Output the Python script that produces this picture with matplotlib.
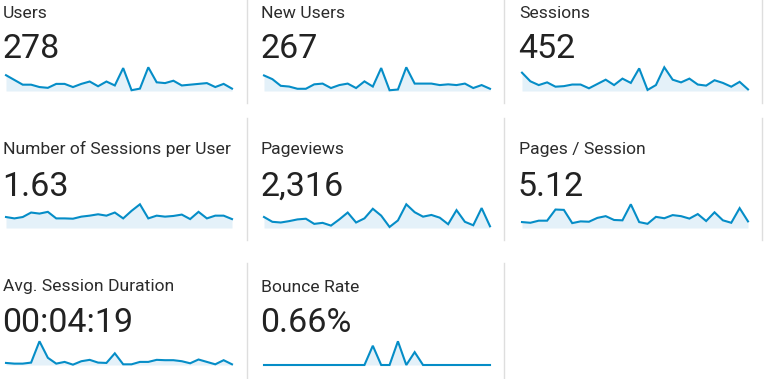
import matplotlib
matplotlib.use("Agg")
import matplotlib.pyplot as plt

W, H = 766, 379
DPI = 100

LINE_BLUE = "#058dc7"
FILL_BLUE = "#e4f1f9"
LABEL_COLOR = "#2b2b2b"
VALUE_COLOR = "#222222"
BORDER = "#dedede"

# metric names and headline values
labels = ["Users", "New Users", "Sessions",
          "Number of Sessions per User", "Pageviews", "Pages / Session",
          "Avg. Session Duration", "Bounce Rate"]
totals = ["278", "267", "452", "1.63", "2,316", "5.12", "00:04:19", "0.66%"]

# daily values (28 days)
users = [20, 14, 8, 8, 5, 4, 9, 9, 5, 9, 12, 6, 12, 7, 29, 1, 3, 30, 11, 10,
         13, 7, 8, 9, 10, 5, 9, 3]
new_users = [21, 16, 7, 6, 3, 3, 9, 10, 4, 8, 10, 4, 13, 6, 31, 1, 2, 32, 10,
             10, 10, 8, 9, 8, 10, 4, 8, 3]
sessions = [34, 18, 11, 16, 8, 9, 12, 12, 5, 13, 21, 11, 23, 15, 42, 2, 11, 44,
            21, 16, 23, 12, 10, 20, 15, 8, 17, 3]
sessions_per_user = [1.44, 1.26, 1.44, 2.03, 1.89, 2.12, 1.26, 1.26, 1.22,
                     1.49, 1.62, 1.80, 1.62, 2.03, 1.26, 2.25, 3.11, 1.26,
                     1.62, 1.49, 1.58, 1.76, 1.17, 2.12, 1.26, 1.62, 1.62, 1.17]
pageviews = [96, 54, 48, 60, 75, 81, 36, 45, 21, 75, 135, 48, 84, 168, 108, 9,
             66, 207, 138, 99, 114, 90, 33, 156, 54, 24, 174, 15]
pages_per_session = [3.06, 2.70, 3.78, 3.78, 9.54, 9.36, 2.52, 3.42, 3.24,
                     5.22, 6.12, 4.14, 3.96, 12.24, 3.06, 2.16, 5.76, 5.04,
                     6.66, 6.12, 4.86, 7.20, 3.60, 8.10, 3.96, 2.70, 10.26, 3.42]
avg_duration = [132, 88, 88, 154, 1518, 462, 88, 198, 22, 242, 330, 154, 132,
                748, 44, 44, 198, 198, 330, 308, 308, 242, 110, 352, 198, 44,
                308, 44]
bounce_rate = [0, 0, 0, 0, 0, 0, 0, 0, 0, 0, 0, 0, 0, 6.25, 0, 0, 7.69, 0,
               4.17, 0, 0, 0, 0, 0, 0, 0, 0, 0]

series = [users, new_users, sessions, sessions_per_user, pageviews,
          pages_per_session, avg_duration, bounce_rate]

# layout in pixels (top-left origin)
col_x = [0, 258, 516]
col_right = [247, 504, 762]
row_dy = [0, 137, 274]
row_borders = [(0, 103), (118, 240), (263, 379)]

fig = plt.figure(figsize=(W / DPI, H / DPI), dpi=DPI)
fig.patch.set_facecolor("white")


def fx(px):
    return px / W


def fy(py):
    return 1 - py / H


# card borders on the right side
for r, (y0, y1) in enumerate(row_borders):
    for c in range(3):
        if r * 3 + c >= len(labels):
            continue
        fig.add_artist(plt.Line2D([fx(col_right[c]), fx(col_right[c])],
                                  [fy(y0), fy(y1)], color=BORDER, lw=1.0))

for i, (lab, tot, vals) in enumerate(zip(labels, totals, series)):
    r, c = divmod(i, 3)
    x0 = col_x[c]
    dy = row_dy[r]

    fig.text(fx(x0 + 3), fy(dy + 17.5), lab, fontsize=12.6, color=LABEL_COLOR,
             family="Roboto", va="baseline", ha="left")
    fig.text(fx(x0 + 2), fy(dy + 58.5), tot, fontsize=24.5, color=VALUE_COLOR,
             family="Roboto", va="baseline", ha="left")

    # sparkline: zero line at base, max at top
    base = dy + 91
    top = dy + 67.3
    left = x0 + 6
    width = 226
    ax = fig.add_axes([fx(left), fy(base), fx(width), (base - top) / H])
    xs = list(range(len(vals)))
    ax.fill_between(xs, 0, vals, color=FILL_BLUE, lw=0)
    ax.plot(xs, vals, color=LINE_BLUE, lw=1.5, clip_on=False,
            solid_joinstyle="miter")
    ax.set_xlim(0, len(vals) - 1)
    ax.set_ylim(0, max(vals))
    ax.axis("off")

fig.savefig("out.png", dpi=DPI, facecolor="white")
